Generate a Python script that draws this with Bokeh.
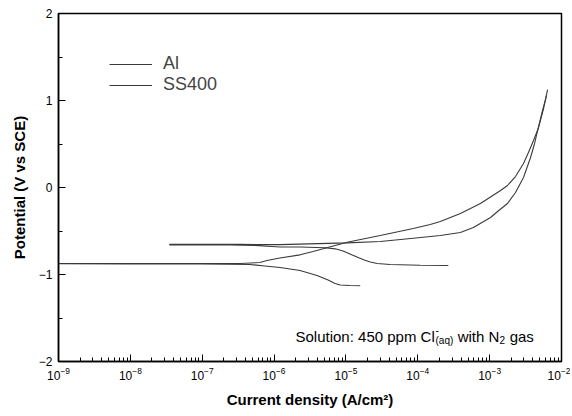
from bokeh.plotting import figure
from bokeh.models import (Range1d, FixedTicker, Label, Legend, LegendItem, LogTickFormatter)
from bokeh.embed import file_html
from bokeh.resources import INLINE

# ---- data (current density A/cm2, potential V vs SCE) ----
# Al: cathodic branch (high current -> Ecorr), then anodic branch
al_current = [1.58e-5, 1.14e-5, 8.30e-6, 7.07e-6, 5.65e-6, 3.96e-6, 2.30e-6, 1.21e-6,
              7.46e-7, 4.61e-7, 1.0e-7, 1.0e-8, 1.0e-9,
              1.0e-9, 1.0e-8, 1.41e-7, 3.34e-7, 6.35e-7, 7.96e-7, 1.21e-6, 2.30e-6,
              3.49e-6, 4.81e-6, 1.04e-5, 3.00e-5, 8.65e-5, 1.49e-4, 2.06e-4, 3.92e-4,
              7.45e-4, 1.42e-3, 1.77e-3, 2.29e-3, 2.96e-3, 3.47e-3, 4.08e-3, 4.80e-3,
              5.63e-3, 6.40e-3]
al_potential = [-1.130, -1.126, -1.121, -1.103, -1.063, -1.011, -0.954, -0.920,
                -0.902, -0.885, -0.879, -0.878, -0.877,
                -0.874, -0.874, -0.874, -0.874, -0.862, -0.839, -0.810, -0.774,
                -0.736, -0.705, -0.629, -0.552, -0.471, -0.425, -0.391, -0.299,
                -0.184, -0.034, 0.023, 0.126, 0.276, 0.402, 0.540, 0.690,
                0.908, 1.126]

# SS400: cathodic branch (high current -> Ecorr), then anodic branch
ss_current = [2.66e-4, 1.08e-4, 4.13e-5, 2.72e-5, 2.18e-5, 1.80e-5, 1.48e-5, 1.14e-5,
              9.14e-6, 7.07e-6, 5.13e-6, 2.30e-6, 1.21e-6, 5.42e-7, 2.43e-7, 3.53e-8,
              3.53e-8, 3.34e-7, 1.21e-6, 1.04e-5, 3.00e-5, 8.65e-5, 2.06e-4, 3.92e-4,
              5.94e-4, 1.03e-3, 1.29e-3, 1.77e-3, 2.29e-3, 2.96e-3, 3.71e-3, 4.22e-3,
              4.65e-3, 5.45e-3, 6.19e-3]
ss_potential = [-0.897, -0.893, -0.885, -0.874, -0.856, -0.833, -0.805, -0.764,
                -0.730, -0.705, -0.693, -0.684, -0.684, -0.667, -0.661, -0.659,
                -0.652, -0.653, -0.657, -0.636, -0.621, -0.583, -0.552, -0.517,
                -0.460, -0.345, -0.276, -0.184, -0.057, 0.115, 0.345, 0.506,
                0.655, 0.885, 1.057]

x_major_ticks = [1e-9, 1e-8, 1e-7, 1e-6, 1e-5, 1e-4, 1e-3, 1e-2]
y_major_ticks = [-2, -1, 0, 1, 2]
y_minor_ticks = [-1.5, -0.5, 0.5, 1.5]
x_minor_ticks = [m * t for t in x_major_ticks[:-1] for m in range(2, 10)]

FONT = "Liberation Sans"
LINE_COLOR = "#3a3a3a"

p = figure(width=570, height=414, x_axis_type="log", output_backend="svg",
           toolbar_location=None,
           x_range=Range1d(1e-9, 1e-2), y_range=Range1d(-2, 2),
           min_border_left=58, min_border_right=9, min_border_top=13, min_border_bottom=53)

p.background_fill_color = "white"
p.border_fill_color = "white"
p.outline_line_color = "black"
p.outline_line_width = 1.5
p.xgrid.visible = False
p.ygrid.visible = False

r_al = p.line(al_current, al_potential, line_color=LINE_COLOR, line_width=1.1)
r_ss = p.line(ss_current, ss_potential, line_color=LINE_COLOR, line_width=1.1)

# axes
xa = p.xaxis[0]
xa.ticker = FixedTicker(ticks=x_major_ticks, minor_ticks=x_minor_ticks)
xa.formatter = LogTickFormatter()
xa.axis_label = "Current density (A/cm\u00b2)"
ya = p.yaxis[0]
ya.ticker = FixedTicker(ticks=y_major_ticks, minor_ticks=y_minor_ticks)
ya.axis_label = "Potential (V vs SCE)"

for ax in (xa, ya):
    ax.axis_line_color = "black"
    ax.axis_line_width = 1.5
    ax.major_tick_in = 7
    ax.major_tick_out = 0
    ax.minor_tick_in = 4
    ax.minor_tick_out = 0
    ax.major_tick_line_color = "black"
    ax.minor_tick_line_color = "black"
    ax.major_label_text_font = FONT
    ax.major_label_text_font_size = "12px"
    ax.major_label_text_color = "black"
    ax.axis_label_text_font = FONT
    ax.axis_label_text_font_style = "bold"
    ax.axis_label_text_font_size = "15px"
    ax.axis_label_text_color = "black"

xa.major_label_standoff = 5
xa.axis_label_standoff = 8
ya.major_label_standoff = 6
ya.axis_label_standoff = 8

# legend (no frame)
legend = Legend(items=[LegendItem(label="Al", renderers=[r_al]),
                       LegendItem(label="SS400", renderers=[r_ss])],
                location=(51, 266), glyph_width=43, glyph_height=18, spacing=0,
                padding=0, label_standoff=11, label_text_font=FONT,
                label_text_font_size="18px", border_line_color=None,
                background_fill_alpha=0)
p.add_layout(legend, "center")

# annotation with sub/superscripts
ann_y = -1.71
parts = [
    ("Solution: 450 ppm Cl", 237, 0, "15px"),
    ("-", 377, 6, "10px"),
    ("(aq)", 377, -4, "10px"),
    ("\u00a0with N", 395, 0, "15px"),
    ("2", 441, -4, "10px"),
    ("\u00a0gas", 447, 0, "15px"),
]
for txt, dx, dy, fs in parts:
    p.add_layout(Label(x=1e-9, y=ann_y, x_offset=dx, y_offset=dy, text=txt,
                       text_font=FONT, text_font_size=fs, text_color="black",
                       text_baseline="alphabetic"))

open("out.html", "w").write(file_html(p, INLINE))
